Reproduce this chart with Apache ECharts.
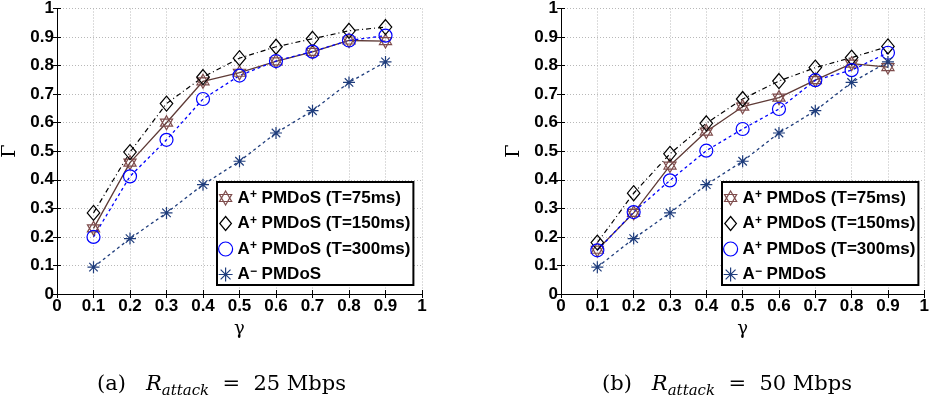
<!DOCTYPE html>
<html>
<head>
<meta charset="utf-8">
<script src="https://cdn.jsdelivr.net/npm/echarts@6/dist/echarts.min.js"></script>
<style>
html,body{margin:0;padding:0;background:#fff;}
#main{width:932px;height:404px;}
</style>
</head>
<body>
<div id="main"></div>
<script>
// ---- data ----
var gammaValues = [0.1, 0.2, 0.3, 0.4, 0.5, 0.6, 0.7, 0.8, 0.9];
var tickValues = [0, 0.1, 0.2, 0.3, 0.4, 0.5, 0.6, 0.7, 0.8, 0.9, 1];
var seriesNames = ['A+ PMDoS (T=75ms)', 'A+ PMDoS (T=150ms)', 'A+ PMDoS (T=300ms)', 'A- PMDoS'];
// (a) R_attack = 25 Mbps
var a_T75  = [0.230, 0.460, 0.600, 0.745, 0.775, 0.815, 0.848, 0.888, 0.886];
var a_T150 = [0.284, 0.497, 0.667, 0.760, 0.826, 0.866, 0.894, 0.922, 0.935];
var a_T300 = [0.200, 0.412, 0.540, 0.683, 0.765, 0.816, 0.849, 0.888, 0.905];
var a_Aminus = [0.094, 0.194, 0.284, 0.383, 0.465, 0.564, 0.642, 0.741, 0.813];
// (b) R_attack = 50 Mbps
var b_T75  = [0.155, 0.284, 0.450, 0.569, 0.656, 0.688, 0.749, 0.807, 0.795];
var b_T150 = [0.180, 0.353, 0.491, 0.598, 0.683, 0.746, 0.793, 0.828, 0.867];
var b_T300 = [0.153, 0.287, 0.398, 0.502, 0.578, 0.648, 0.749, 0.784, 0.845];
var b_Aminus = [0.094, 0.194, 0.284, 0.383, 0.465, 0.564, 0.642, 0.741, 0.813];
var captionA = ['(a)', 'R', 'attack', '=', '25 Mbps'];
var captionB = ['(b)', 'R', 'attack', '=', '50 Mbps'];

// ---- styles ----
var HEX = 'path://M0,-10L8.66,5L-8.66,5Z M0,10L8.66,-5L-8.66,-5Z';
var DIA = 'path://M0,-12L10,0L0,12L-10,0Z';
var AST = 'path://M0,-10L0,10M-10,0L10,0M-7.07,-7.07L7.07,7.07M-7.07,7.07L7.07,-7.07';
var styles = [
  {symbol: HEX, size: 14, line: '#5e3a36', mark: '#7e4c4c', type: 'solid', width: 1.3},
  {symbol: DIA, size: 15, line: '#000000', mark: '#000000', type: [5, 3, 1, 3], width: 1.2},
  {symbol: 'circle', size: 13, line: '#0000ff', mark: '#0000ff', type: [3, 3], width: 1.3},
  {symbol: AST, size: 12, line: '#1f3d7c', mark: '#1f3d7c', type: [3, 3], width: 1.3}
];
var TICKFONT = {fontFamily: 'Liberation Sans, Arial, sans-serif', fontWeight: 'bold', fontSize: 17, color: '#000'};

function fmt(v) { return (v === 0 || v === 1) ? String(v) : v.toFixed(1); }
function pairs(ys) { return gammaValues.map(function (x, i) { return [x, ys[i]]; }); }

var grids = [
  {left: 55, top: 7, width: 367, height: 287},
  {left: 561, top: 7, width: 366, height: 287}
];

var xAxes = [], yAxes = [];
grids.forEach(function (g, gi) {
  xAxes.push({
    type: 'value', gridIndex: gi, min: 0, max: 1, interval: 0.1, position: 'bottom',
    name: 'γ', nameLocation: 'middle', nameGap: 25,
    nameTextStyle: {fontFamily: 'DejaVu Serif, serif', fontSize: 18, color: '#000'},
    axisLine: {show: true, lineStyle: {color: '#000', width: 1}},
    axisTick: {show: true, inside: true, length: 4, lineStyle: {color: '#000'}},
    axisLabel: Object.assign({formatter: fmt, margin: 4, showMinLabel: true, showMaxLabel: true}, TICKFONT),
    splitLine: {show: true, lineStyle: {color: '#b8b8b8', type: [1, 2], width: 1}}
  });
  xAxes.push({
    type: 'value', gridIndex: gi, min: 0, max: 1, interval: 0.1, position: 'top',
    axisLine: {show: true, lineStyle: {color: '#000', width: 1}},
    axisTick: {show: true, inside: true, length: 4, lineStyle: {color: '#000'}},
    axisLabel: {show: false}, splitLine: {show: false}
  });
  yAxes.push({
    type: 'value', gridIndex: gi, min: 0, max: 1, interval: 0.1, position: 'left',
    name: 'Γ', nameLocation: 'middle', nameGap: 37, nameRotate: 90,
    nameTextStyle: {fontFamily: 'DejaVu Serif, serif', fontSize: 19, color: '#000'},
    axisLine: {show: true, lineStyle: {color: '#000', width: 1}},
    axisTick: {show: true, inside: true, length: 4, lineStyle: {color: '#000'}},
    axisLabel: Object.assign({formatter: fmt, margin: 3, showMinLabel: true, showMaxLabel: true}, TICKFONT),
    splitLine: {show: true, lineStyle: {color: '#b8b8b8', type: [1, 2], width: 1}}
  });
  yAxes.push({
    type: 'value', gridIndex: gi, min: 0, max: 1, interval: 0.1, position: 'right',
    axisLine: {show: true, lineStyle: {color: '#000', width: 1}},
    axisTick: {show: true, inside: true, length: 4, lineStyle: {color: '#000'}},
    axisLabel: {show: false}, splitLine: {show: false}
  });
});

var dataSets = [[a_T75, a_T150, a_T300, a_Aminus], [b_T75, b_T150, b_T300, b_Aminus]];
var series = [];
dataSets.forEach(function (set, gi) {
  set.forEach(function (ys, si) {
    var s = styles[si];
    series.push({
      type: 'line', name: seriesNames[si], xAxisIndex: gi * 2, yAxisIndex: gi * 2,
      data: pairs(ys), symbol: s.symbol, symbolSize: s.size, symbolKeepAspect: true,
      showSymbol: true, animation: false, silent: true,
      lineStyle: {color: s.line, type: s.type, width: s.width},
      itemStyle: {color: 'rgba(0,0,0,0)', borderColor: s.mark, borderWidth: 1.2},
      emphasis: {disabled: true}
    });
  });
});

function legendFor(left) {
  return {
    orient: 'vertical', left: left, top: 182,
    padding: [7, 3, 2, 1], itemGap: 8, itemWidth: 14, itemHeight: 14,
    borderColor: '#000', borderWidth: 2, backgroundColor: '#fff',
    selectedMode: false, symbolKeepAspect: true,
    data: seriesNames.map(function (n, i) {
      return {name: n, icon: styles[i].symbol,
        itemStyle: {color: 'rgba(0,0,0,0)', borderColor: styles[i].mark, borderWidth: 1.2}};
    }),
    formatter: function (name) {
      var sign = name.charAt(1);
      var rest = name.slice(2);
      return '{b|A}{s|' + (sign === '+' ? '+' : '−') + '}{b|' + rest + '}';
    },
    textStyle: {
      rich: {
        b: {fontFamily: 'Liberation Sans, Arial, sans-serif', fontWeight: 'bold', fontSize: 17, color: '#000', lineHeight: 18},
        s: {fontFamily: 'Liberation Sans, Arial, sans-serif', fontWeight: 'bold', fontSize: 12, color: '#000', lineHeight: 12, verticalAlign: 'top'}
      }
    }
  };
}

function caption(c, left) {
  return {
    left: left, top: 366,
    text: '{n|' + c[0] + '   }{i|' + c[1] + '}{s|' + c[2] + '}{n|  ' + c[3] + '  ' + c[4] + '}',
    textStyle: {
      fontWeight: 'normal',
      rich: {
        n: {fontFamily: 'DejaVu Serif, serif', fontWeight: 'normal', fontSize: 21, color: '#000', lineHeight: 28},
        i: {fontFamily: 'DejaVu Serif, serif', fontWeight: 'normal', fontStyle: 'italic', fontSize: 21, color: '#000', lineHeight: 28},
        s: {fontFamily: 'DejaVu Serif, serif', fontWeight: 'normal', fontStyle: 'italic', fontSize: 15, color: '#000', lineHeight: 12, verticalAlign: 'bottom'}
      }
    }
  };
}

var chart = echarts.init(document.getElementById('main'), null, {renderer: 'canvas'});
chart.setOption({
  backgroundColor: '#fff',
  animation: false,
  title: [caption(captionA, 92), caption(captionB, 597)],
  legend: [legendFor(217), legendFor(722)],
  grid: grids.map(function (g) { return Object.assign({show: false, containLabel: false}, g); }),
  xAxis: xAxes,
  yAxis: yAxes,
  series: series
});
</script>
</body>
</html>
